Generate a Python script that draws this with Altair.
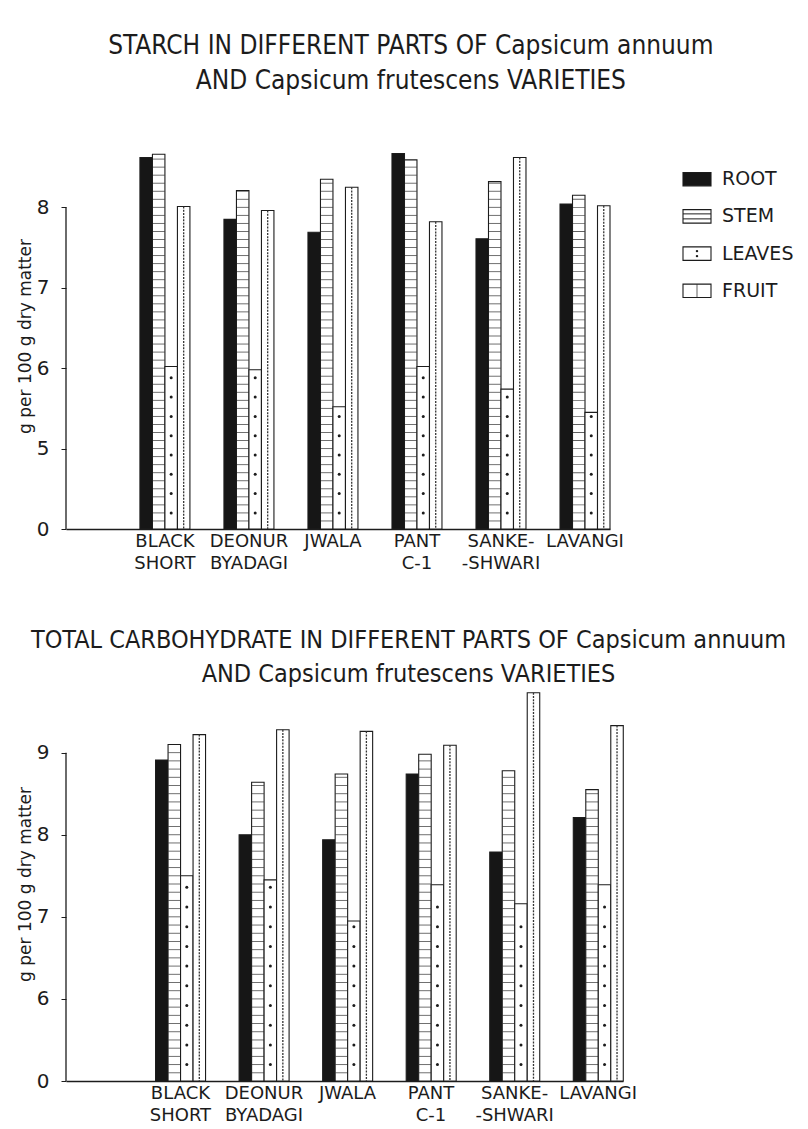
import altair as alt
import pandas as pd

varieties = ["BLACK SHORT", "DEONUR BYADAGI", "JWALA", "PANT C-1", "SANKE- -SHWARI", "LAVANGI"]
parts = ["ROOT", "STEM", "LEAVES", "FRUIT"]

# Starch (g per 100 g dry matter)
starch_root = [8.62, 7.85, 7.69, 8.67, 7.61, 8.04]
starch_stem = [8.66, 8.21, 8.35, 8.59, 8.32, 8.15]
starch_leaves = [6.02, 5.98, 5.52, 6.02, 5.74, 5.45]
starch_fruit = [8.01, 7.96, 8.25, 7.82, 8.62, 8.02]

# Total carbohydrate (g per 100 g dry matter)
carb_root = [8.91, 8.00, 7.94, 8.74, 7.79, 8.21]
carb_stem = [9.10, 8.64, 8.74, 8.98, 8.78, 8.55]
carb_leaves = [7.50, 7.45, 6.95, 7.39, 7.16, 7.39]
carb_fruit = [9.22, 9.28, 9.26, 9.09, 9.73, 9.33]

starch_title = ["STARCH IN DIFFERENT PARTS OF Capsicum annuum", "AND Capsicum frutescens VARIETIES"]
carb_title = ["TOTAL CARBOHYDRATE IN DIFFERENT PARTS OF Capsicum annuum", "AND Capsicum frutescens VARIETIES"]
y_title = "g per 100 g dry matter"

FONT = "DejaVu Sans"
TITLE_FONT = "DejaVu Sans Condensed, DejaVu Sans"
INK = "#1c1c1c"


def make_df(series):
    rows = []
    for part, vals in zip(parts, series):
        for v, val in zip(varieties, vals):
            rows.append({"variety": v, "part": part, "value": val})
    return pd.DataFrame(rows)


fill_scale = alt.Scale(domain=parts, range=["#161616", "white", "white", "white"])


def panel(df, base, top, axis_top, ticks, width, height, pad_outer):
    xscale = alt.Scale(domain=varieties, paddingInner=0.405, paddingOuter=pad_outer, align=1)
    xenc = alt.X("variety:N", sort=varieties, scale=xscale,
                 axis=alt.Axis(title=None, labelExpr="split(datum.value, ' ')", ticks=False,
                               labelAngle=0, domainColor=INK, domainWidth=1.6,
                               labelFontSize=18, labelFont=FONT, labelColor=INK,
                               labelPadding=3, labelLineHeight=22, labelAlign="center",
                               labelOverlap=False))
    xoff = alt.XOffset("part:N", sort=parts,
                       scale=alt.Scale(domain=parts, paddingInner=0, paddingOuter=0))
    yscale = alt.Scale(domain=[base, top], nice=False, zero=False)
    yaxis = alt.Axis(values=ticks, format="d",
                     labelExpr=f"datum.value == {base} ? '0' : datum.label",
                     domain=False, grid=False, tickSize=5, tickColor=INK,
                     labelFontSize=20, labelFont=FONT, labelColor=INK, labelPadding=12,
                     title=y_title, titleFont=FONT, titleFontSize=17,
                     titleFontWeight="normal", titleColor=INK, titlePadding=2)
    yenc = lambda f: alt.Y(f, scale=yscale, axis=yaxis, title=y_title)

    bars = alt.Chart(df).mark_bar(stroke=INK, strokeWidth=1.1).encode(
        x=xenc, xOffset=xoff, y=yenc("value:Q"), y2=alt.datum(base),
        fill=alt.Fill("part:N", scale=fill_scale, legend=None),
    )
    stripes = alt.Chart(df).transform_filter("datum.part == 'STEM'").transform_calculate(
        s=f"sequence({base} + 0.1, datum.value, 0.1)"
    ).transform_flatten(["s"]).mark_tick(orient="horizontal", color=INK, thickness=0.9, size=12).encode(
        x=xenc, xOffset=xoff, y=yenc("s:Q"))
    dots = alt.Chart(df).transform_filter("datum.part == 'LEAVES'").transform_calculate(
        s=f"sequence({base} + 0.2, datum.value - 0.05, 0.24)"
    ).transform_flatten(["s"]).mark_point(filled=True, size=9, color=INK, opacity=1).encode(
        x=xenc, xOffset=xoff, y=yenc("s:Q"))
    wave = alt.Chart(df).transform_filter("datum.part == 'FRUIT'").mark_rule(
        color="#333333", strokeWidth=1.3, strokeDash=[2, 1.2]).encode(
        x=xenc, xOffset=xoff, y=yenc("value:Q"), y2=alt.datum(base))
    yline = alt.Chart(pd.DataFrame({"a": [0]})).mark_rule(color=INK, strokeWidth=1.3).encode(
        x=alt.value(0), y=alt.datum(base), y2=alt.datum(axis_top))
    return alt.layer(bars, stripes, dots, wave, yline).properties(width=width, height=height)


starch = panel(make_df([starch_root, starch_stem, starch_leaves, starch_fruit]),
               4, 8.8, 8, [4, 5, 6, 7, 8], 544, 386, 0.44)
carb = panel(make_df([carb_root, carb_stem, carb_leaves, carb_fruit]),
             5, 9.8, 9, [5, 6, 7, 8, 9], 557, 394, 0.536).properties(
    title=alt.Title(carb_title, fontSize=25, font=TITLE_FONT, fontWeight="normal", color=INK,
                    lineHeight=34, anchor="middle", offset=0, dx=64))

# legend panel
leg_df = pd.DataFrame({"part": parts})
ly = alt.Y("part:N", sort=parts, axis=None,
           scale=alt.Scale(domain=parts, paddingInner=0.64, paddingOuter=0.79))
sym = alt.Chart(leg_df).mark_rect(stroke=INK, strokeWidth=1.1).encode(
    x=alt.value(0), x2=alt.value(28), y=ly, fill=alt.Fill("part:N", scale=fill_scale, legend=None))
stem_l1 = alt.Chart(leg_df).transform_filter("datum.part == 'STEM'").mark_rule(
    color=INK, yOffset=-2.5).encode(x=alt.value(0), x2=alt.value(28), y=ly)
stem_l2 = alt.Chart(leg_df).transform_filter("datum.part == 'STEM'").mark_rule(
    color=INK, yOffset=2.5).encode(x=alt.value(0), x2=alt.value(28), y=ly)
leaf_d1 = alt.Chart(leg_df).transform_filter("datum.part == 'LEAVES'").mark_point(
    filled=True, size=6, color=INK, yOffset=-2.5, opacity=1).encode(x=alt.value(14), y=ly)
leaf_d2 = alt.Chart(leg_df).transform_filter("datum.part == 'LEAVES'").mark_point(
    filled=True, size=6, color=INK, yOffset=2.5, opacity=1).encode(x=alt.value(14), y=ly)
fruit_l = alt.Chart(leg_df).transform_filter("datum.part == 'FRUIT'").mark_tick(
    orient="vertical", size=13, thickness=1, color=INK).encode(x=alt.value(14), y=ly)
leg_txt = alt.Chart(leg_df).mark_text(align="left", baseline="middle", fontSize=19, font=FONT,
                                      color=INK).encode(x=alt.value(39), y=ly, text="part:N")
legend = alt.layer(sym, stem_l1, stem_l2, leaf_d1, leaf_d2, fruit_l, leg_txt).properties(
    width=60, height=184)

top_row = alt.hconcat(starch, legend, spacing=58).properties(
    title=alt.Title(starch_title, fontSize=26, font=TITLE_FONT, fontWeight="normal", color=INK,
                    lineHeight=35, anchor="middle", offset=43, dx=6, dy=-6))

chart = alt.vconcat(top_row, carb, spacing=56).properties(
    padding={"left": 8, "top": 25, "right": 0, "bottom": 0},
    background="white",
).configure_view(stroke=None)

chart.save("out.html", embed_options={"renderer": "svg", "actions": False})
